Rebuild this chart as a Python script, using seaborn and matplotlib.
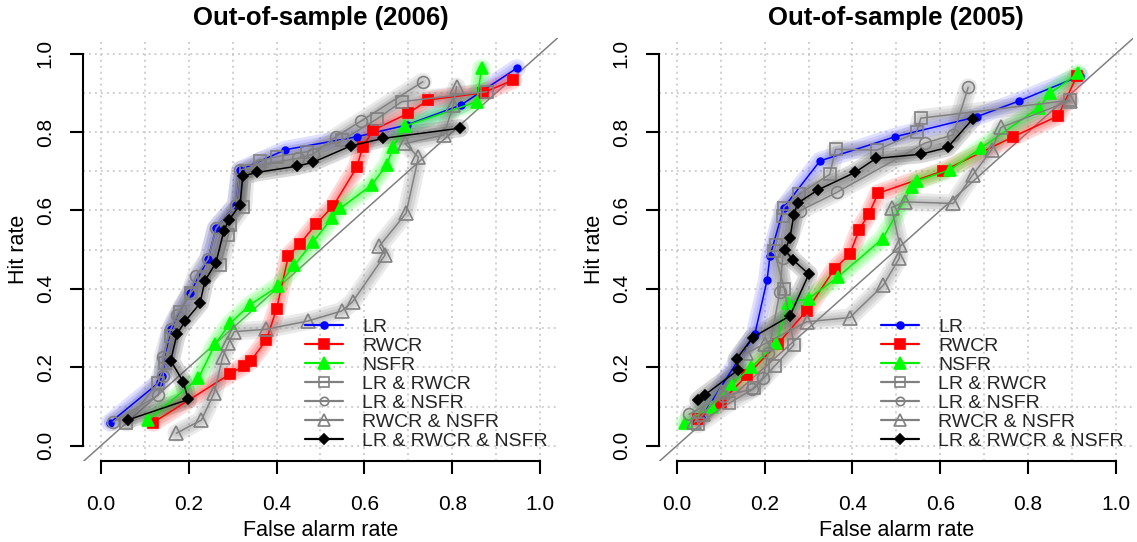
import numpy as np
import pandas as pd
import matplotlib
matplotlib.use("Agg")
import matplotlib.pyplot as plt
import seaborn as sns
from matplotlib.lines import Line2D

# ---------------- data ----------------
series_names = ["LR", "RWCR", "NSFR", "LR & RWCR", "LR & NSFR", "RWCR & NSFR", "LR & RWCR & NSFR"]
tick_values = [0.0, 0.2, 0.4, 0.6, 0.8, 1.0]
tick_labels = ["0.0", "0.2", "0.4", "0.6", "0.8", "1.0"]
titles = ["Out-of-sample (2006)", "Out-of-sample (2005)"]

# 2006 panel
lr_06_x = [0.021, 0.134, 0.140, 0.159, 0.203, 0.244, 0.262, 0.3075, 0.317, 0.42, 0.5825, 0.696, 0.82, 0.947]
lr_06_y = [0.059, 0.163, 0.178, 0.297, 0.390, 0.476, 0.5545, 0.614, 0.703, 0.755, 0.788, 0.818, 0.869, 0.963]
rwcr_06_x = [0.119, 0.294, 0.326, 0.341, 0.377, 0.400, 0.427, 0.453, 0.490, 0.529, 0.5825, 0.596, 0.620, 0.700, 0.7455, 0.87, 0.939]
rwcr_06_y = [0.059, 0.183, 0.204, 0.216, 0.270, 0.349, 0.484, 0.5145, 0.5655, 0.6115, 0.710, 0.761, 0.805, 0.848, 0.882, 0.90, 0.933]
nsfr_06_x = [0.108, 0.222, 0.260, 0.294, 0.339, 0.404, 0.440, 0.4835, 0.5255, 0.545, 0.6165, 0.651, 0.666, 0.6925, 0.856, 0.867]
nsfr_06_y = [0.0656, 0.172, 0.259, 0.312, 0.359, 0.407, 0.46, 0.520, 0.580, 0.6055, 0.665, 0.716, 0.763, 0.8155, 0.8775, 0.963]
lr_rwcr_06_x = [0.058, 0.13, 0.145, 0.16, 0.18, 0.205, 0.235, 0.271, 0.29, 0.294, 0.324, 0.33, 0.362, 0.40, 0.47, 0.55, 0.628, 0.685, 0.879]
lr_rwcr_06_y = [0.059, 0.16, 0.21, 0.28, 0.34, 0.39, 0.43, 0.461, 0.5375, 0.563, 0.61, 0.70, 0.727, 0.737, 0.75, 0.78, 0.833, 0.8775, 0.903]
lr_nsfr_06_x = [0.028, 0.1305, 0.142, 0.1405, 0.159, 0.173, 0.203, 0.216, 0.244, 0.262, 0.3075, 0.317, 0.362, 0.449, 0.482, 0.535, 0.592, 0.733]
lr_nsfr_06_y = [0.061, 0.129, 0.178, 0.2255, 0.297, 0.333, 0.390, 0.433, 0.476, 0.5545, 0.614, 0.703, 0.716, 0.733, 0.743, 0.788, 0.828, 0.9285]
rwcr_nsfr_06_x = [0.172, 0.229, 0.258, 0.277, 0.290, 0.3035, 0.376, 0.471, 0.548, 0.573, 0.647, 0.634, 0.695, 0.723, 0.6925, 0.781, 0.8025, 0.810]
rwcr_nsfr_06_y = [0.032, 0.0656, 0.135, 0.2255, 0.261, 0.291, 0.297, 0.318, 0.3435, 0.367, 0.4865, 0.509, 0.593, 0.736, 0.771, 0.7925, 0.869, 0.916]
all3_06_x = [0.062, 0.199, 0.1875, 0.159, 0.173, 0.192, 0.2255, 0.237, 0.262, 0.280, 0.291, 0.317, 0.323, 0.355, 0.446, 0.483, 0.5695, 0.643, 0.818]
all3_06_y = [0.066, 0.118, 0.163, 0.217, 0.284, 0.318, 0.363, 0.421, 0.467, 0.548, 0.575, 0.615, 0.688, 0.697, 0.713, 0.723, 0.765, 0.784, 0.810]

# 2005 panel
lr_05_x = [0.055, 0.1777, 0.2057, 0.212, 0.2437, 0.326, 0.4966, 0.6827, 0.780, 0.918]
lr_05_y = [0.070, 0.2845, 0.423, 0.483, 0.6076, 0.7265, 0.788, 0.839, 0.8796, 0.943]
rwcr_05_x = [0.0486, 0.10, 0.16, 0.23, 0.2954, 0.36, 0.394, 0.415, 0.437, 0.4586, 0.6066, 0.766, 0.8686, 0.9105]
rwcr_05_y = [0.0676, 0.11, 0.18, 0.26, 0.344, 0.452, 0.4885, 0.5505, 0.5906, 0.644, 0.701, 0.788, 0.8415, 0.9418]
nsfr_05_x = [0.018, 0.08, 0.1245, 0.17, 0.227, 0.2535, 0.301, 0.3675, 0.4686, 0.5347, 0.546, 0.622, 0.6925, 0.8253, 0.8497, 0.914]
nsfr_05_y = [0.059, 0.10, 0.157, 0.20, 0.263, 0.365, 0.3755, 0.431, 0.528, 0.6587, 0.6755, 0.7036, 0.759, 0.8627, 0.899, 0.950]
lr_rwcr_05_x = [0.0486, 0.119, 0.176, 0.2232, 0.2665, 0.245, 0.2217, 0.2255, 0.241, 0.2437, 0.2785, 0.3485, 0.3615, 0.455, 0.546, 0.5558, 0.895]
lr_rwcr_05_y = [0.055, 0.1085, 0.146, 0.2036, 0.257, 0.40, 0.497, 0.5115, 0.586, 0.6076, 0.6415, 0.6925, 0.756, 0.754, 0.799, 0.8355, 0.881]
lr_nsfr_05_x = [0.028, 0.1055, 0.1716, 0.1966, 0.208, 0.2346, 0.241, 0.280, 0.364, 0.5649, 0.6294, 0.6636]
lr_nsfr_05_y = [0.080, 0.127, 0.144, 0.174, 0.236, 0.391, 0.48, 0.599, 0.646, 0.772, 0.793, 0.914]
rwcr_nsfr_05_x = [0.04, 0.06, 0.104, 0.1587, 0.2, 0.2954, 0.394, 0.47, 0.5065, 0.508, 0.489, 0.5194, 0.6294, 0.6735, 0.7168, 0.738, 0.895]
rwcr_nsfr_05_y = [0.06, 0.08, 0.136, 0.236, 0.26, 0.316, 0.327, 0.409, 0.478, 0.5115, 0.6076, 0.622, 0.618, 0.690, 0.7546, 0.8117, 0.8796]
all3_05_x = [0.0486, 0.0638, 0.1397, 0.136, 0.1724, 0.2574, 0.3007, 0.2650, 0.2467, 0.2574, 0.2665, 0.275, 0.3205, 0.4055, 0.4533, 0.5558, 0.6166, 0.6735]
all3_05_y = [0.116, 0.1296, 0.1934, 0.2207, 0.276, 0.331, 0.4375, 0.474, 0.4987, 0.529, 0.588, 0.6186, 0.652, 0.697, 0.7327, 0.7436, 0.7607, 0.833]

panel_data = [
    [(lr_06_x, lr_06_y), (rwcr_06_x, rwcr_06_y), (nsfr_06_x, nsfr_06_y), (lr_rwcr_06_x, lr_rwcr_06_y),
     (lr_nsfr_06_x, lr_nsfr_06_y), (rwcr_nsfr_06_x, rwcr_nsfr_06_y), (all3_06_x, all3_06_y)],
    [(lr_05_x, lr_05_y), (rwcr_05_x, rwcr_05_y), (nsfr_05_x, nsfr_05_y), (lr_rwcr_05_x, lr_rwcr_05_y),
     (lr_nsfr_05_x, lr_nsfr_05_y), (rwcr_nsfr_05_x, rwcr_nsfr_05_y), (all3_05_x, all3_05_y)],
]

# ---------------- styles ----------------
GRAY = "#808080"
styles = {
    "LR":               dict(color="#0000ff", glow="#6a6aff", galpha=0.2, marker="o", ms=4.8, mfc="#0000ff", mec="#0000ff", lms=5),
    "RWCR":             dict(color="#ff0000", glow="#ff4040", galpha=0.2, marker="s", ms=7, mfc="#ff0000", mec="#ff0000", lms=7),
    "NSFR":             dict(color="#00ee00", glow="#30ff30", galpha=0.2, marker="^", ms=8.5, mfc="#00ff00", mec="#00ff00", lms=8),
    "LR & RWCR":        dict(color=GRAY, glow=GRAY, galpha=0.16, marker="s", ms=8, mfc="none", mec=GRAY, lms=7),
    "LR & NSFR":        dict(color=GRAY, glow=GRAY, galpha=0.16, marker="o", ms=8.5, mfc="none", mec=GRAY, lms=6),
    "RWCR & NSFR":      dict(color=GRAY, glow=GRAY, galpha=0.16, marker="^", ms=9.5, mfc="none", mec=GRAY, lms=9),
    "LR & RWCR & NSFR": dict(color="black", glow="#555555", galpha=0.22, marker="D", ms=5.5, mfc="black", mec="black", lms=5),
}

sns.set_theme(style="white")
plt.rcParams["font.family"] = ["Liberation Sans", "DejaVu Sans"]

fig = plt.figure(figsize=(11.37, 5.42), dpi=100)
axes = [fig.add_axes([0.0733, 0.1487, 0.4171, 0.7812]),
        fig.add_axes([0.5798, 0.1487, 0.4171, 0.7812])]

for ax, title, data in zip(axes, titles, panel_data):
    ax.set_xlim(-0.04, 1.04)
    ax.set_ylim(-0.04, 1.04)
    ax.set_facecolor("white")
    ax.set_xticks(np.arange(0, 1.0001, 0.1), minor=True)
    ax.set_yticks(np.arange(0, 1.0001, 0.1), minor=True)
    ax.set_xticks(tick_values)
    ax.set_yticks(tick_values)
    ax.set_xticklabels(tick_labels)
    ax.set_yticklabels(tick_labels, rotation=90, va="center")
    ax.grid(True, which="both", color="#c4c4c4", linestyle=(0, (1.3, 2.6)), linewidth=1.1)
    ax.set_axisbelow(True)
    ax.axline((0, 0), slope=1, color=GRAY, lw=1.1, zorder=1.5)

    for name, (xs, ys) in zip(series_names, data):
        st = styles[name]
        df = pd.DataFrame({"x": xs, "y": ys})
        for w in (13, 9, 5):
            sns.lineplot(data=df, x="x", y="y", sort=False, estimator=None, ax=ax,
                         color=st["glow"], lw=w, alpha=st["galpha"],
                         solid_capstyle="round", solid_joinstyle="round", legend=False, zorder=2)
        sns.lineplot(data=df, x="x", y="y", sort=False, estimator=None, ax=ax,
                     color=st["color"], lw=1.1, marker=st["marker"], markersize=st["ms"],
                     markerfacecolor=st["mfc"], markeredgecolor=st["mec"],
                     markeredgewidth=1.2, legend=False, zorder=3)

    for sp in ("top", "right"):
        ax.spines[sp].set_visible(False)
    for sp in ("left", "bottom"):
        ax.spines[sp].set_visible(True)
        ax.spines[sp].set_color("black")
        ax.spines[sp].set_linewidth(1.5)
        ax.spines[sp].set_bounds(0, 1)
    ax.tick_params(which="major", bottom=True, left=True, direction="out", length=9.5,
                   width=1.5, color="black", labelsize=15, labelcolor="black")
    ax.tick_params(axis="x", which="major", pad=15)
    ax.tick_params(axis="y", which="major", pad=11)
    ax.tick_params(which="minor", length=0)

    ax.set_title(title, fontsize=18.5, fontweight="bold", pad=9, color="black")
    ax.set_xlabel("False alarm rate", fontsize=15.5, color="black", va="center")
    ax.set_ylabel("Hit rate", fontsize=15.5, color="black", va="center")
    ax.xaxis.set_label_coords(0.5, -0.163)
    ax.yaxis.set_label_coords(-0.136, 0.5)

    handles = [Line2D([0], [0], color=styles[n]["color"], lw=1.6, marker=styles[n]["marker"],
                      markersize=styles[n]["lms"], markerfacecolor=styles[n]["mfc"],
                      markeredgecolor=styles[n]["mec"], markeredgewidth=1.2) for n in series_names]
    ax.legend(handles, series_names, loc="upper left", bbox_to_anchor=(0.465, 0.325),
              bbox_transform=ax.transData, frameon=False, fontsize=14, handlelength=1.96,
              handletextpad=0.98, labelspacing=0.07, borderpad=0, borderaxespad=0, numpoints=1)

fig.savefig("out.png", dpi=100, facecolor="white")
